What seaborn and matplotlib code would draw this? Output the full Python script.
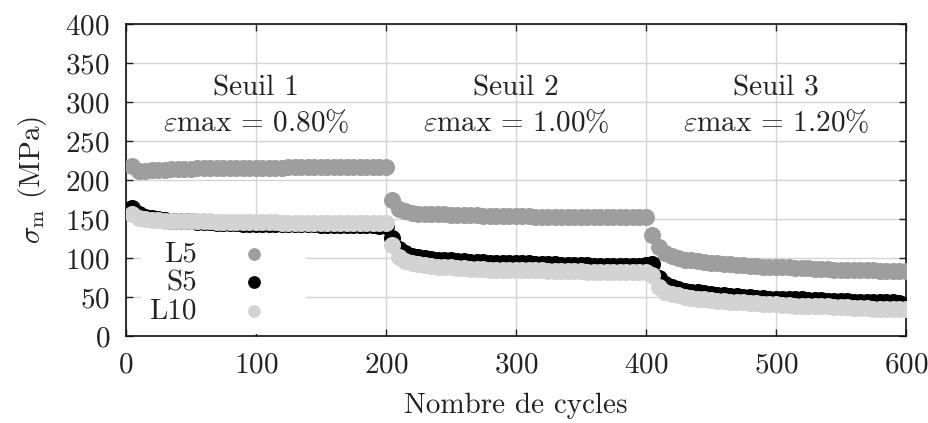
import numpy as np
import pandas as pd
import matplotlib
matplotlib.use("Agg")
import matplotlib.pyplot as plt
import seaborn as sns

# cycles sampled every 5 cycles, three thresholds of 200 cycles each
cycles = list(range(5, 605, 5))

l5_values = [
    # Seuil 1
    218, 212, 212, 213, 213, 213, 214, 214, 214, 214, 215, 215, 215, 215, 215, 215, 216, 216, 216, 216,
    216, 216, 216, 216, 217, 217, 217, 217, 217, 217, 217, 217, 217, 217, 217, 217, 217, 217, 217, 217,
    # Seuil 2
    175, 163, 160, 158, 157, 157, 156, 156, 156, 155, 155, 155, 155, 155, 154, 154, 154, 154, 154, 154,
    154, 154, 153, 153, 153, 153, 153, 153, 153, 153, 153, 152, 152, 152, 152, 152, 152, 152, 152, 152,
    # Seuil 3
    129, 114, 107, 103, 100, 98, 97, 96, 95, 94, 93, 92, 92, 91, 91, 90, 90, 89, 89, 88,
    88, 88, 87, 87, 87, 86, 86, 86, 85, 85, 85, 84, 84, 84, 84, 83, 83, 83, 83, 83,
]
s5_values = [
    164, 156, 153, 151, 150, 149, 148, 148, 147, 147, 146, 146, 146, 145, 145, 145, 145, 144, 144, 144,
    144, 144, 143, 143, 143, 143, 143, 143, 143, 142, 142, 142, 142, 142, 142, 142, 142, 142, 141, 141,
    126, 112, 106, 103, 101, 100, 99, 98, 97, 97, 96, 96, 95, 95, 95, 94, 94, 94, 93, 93,
    93, 93, 92, 92, 92, 92, 91, 91, 91, 91, 91, 90, 90, 90, 90, 90, 90, 90, 90, 91,
    92, 74, 67, 63, 60, 58, 57, 56, 55, 54, 53, 52, 51, 51, 50, 50, 49, 49, 48, 48,
    48, 47, 47, 47, 46, 46, 46, 45, 45, 45, 45, 44, 44, 44, 44, 43, 43, 43, 42, 38,
]
l10_values = [
    157, 151, 150, 149, 149, 148, 148, 148, 147, 147, 147, 147, 147, 146, 146, 146, 146, 146, 146, 146,
    146, 146, 146, 145, 145, 145, 145, 145, 145, 145, 145, 145, 145, 145, 145, 145, 145, 145, 145, 145,
    117, 101, 96, 94, 92, 91, 90, 89, 88, 88, 87, 87, 86, 86, 86, 85, 85, 85, 85, 84,
    84, 84, 84, 84, 83, 83, 83, 83, 83, 83, 82, 82, 82, 82, 82, 82, 82, 82, 82, 82,
    78, 63, 57, 54, 52, 50, 49, 48, 47, 46, 45, 45, 44, 43, 43, 42, 42, 41, 41, 41,
    40, 40, 39, 39, 39, 38, 38, 38, 37, 37, 37, 36, 36, 36, 35, 35, 35, 35, 34, 34,
]

series_names = ["L5", "S5", "L10"]
series_colors = ["#9e9e9e", "#000000", "#d3d3d3"]

threshold_x = [100, 300, 500]
threshold_labels = ["Seuil 1", "Seuil 2", "Seuil 3"]
eps_labels = [r"$\varepsilon\mathrm{max}$ = 0.80%",
              r"$\varepsilon\mathrm{max}$ = 1.00%",
              r"$\varepsilon\mathrm{max}$ = 1.20%"]

df = pd.DataFrame({
    "cycle": cycles * 3,
    "sigma": l5_values + s5_values + l10_values,
    "serie": ["L5"] * len(cycles) + ["S5"] * len(cycles) + ["L10"] * len(cycles),
})

sns.set_style("ticks")
plt.rcParams["font.family"] = ["cmr10", "DejaVu Serif"]
plt.rcParams["mathtext.fontset"] = "cm"
plt.rcParams["axes.formatter.use_mathtext"] = True
plt.rcParams["axes.unicode_minus"] = False

FS = 21
TXT = "#222222"

fig = plt.figure(figsize=(9.29, 4.23), dpi=100)
ax = fig.add_axes([126 / 929, 1 - 336 / 423, 780 / 929, 312 / 423])

# one call per series so L10 ends up drawn above S5
for name, color in zip(series_names, series_colors):
    sns.scatterplot(data=df[df["serie"] == name], x="cycle", y="sigma",
                    color=color, s=150, linewidth=0, label=name, ax=ax, zorder=3)

for xt, seuil, eps in zip(threshold_x, threshold_labels, eps_labels):
    ax.text(xt, 318, seuil, ha="center", va="center", fontsize=FS, color=TXT)
    ax.text(xt, 273, eps, ha="center", va="center", fontsize=FS, color=TXT)

ax.set_xlim(0, 600)
ax.set_ylim(0, 400)
ax.set_xticks(range(0, 601, 100))
ax.set_yticks(range(0, 401, 50))
ax.grid(True, color="#d4d4d4", linewidth=1.0, zorder=0)
ax.set_axisbelow(True)
ax.tick_params(direction="in", length=5, width=1, top=True, right=True,
               labelsize=FS, colors=TXT, pad=11.5)
for sp in ax.spines.values():
    sp.set_visible(True)
    sp.set_linewidth(1.2)
    sp.set_color("#111111")

ax.set_xlabel("Nombre de cycles", fontsize=FS, color=TXT, labelpad=10)
ax.set_ylabel(r"$\sigma_\mathrm{m}$ (MPa)", fontsize=FS, color=TXT, labelpad=12)

leg = ax.legend(loc="lower left", bbox_to_anchor=(0.019, 0.008), borderaxespad=0,
                markerfirst=False, frameon=True, framealpha=1, facecolor="white",
                edgecolor="none", fancybox=False, fontsize=FS, markerscale=0.75,
                handletextpad=0.45, handlelength=3.0, labelspacing=0.08, borderpad=0.3)
leg.set_zorder(2)
for t in leg.get_texts():
    t.set_color(TXT)

fig.savefig("out.png", dpi=100)
